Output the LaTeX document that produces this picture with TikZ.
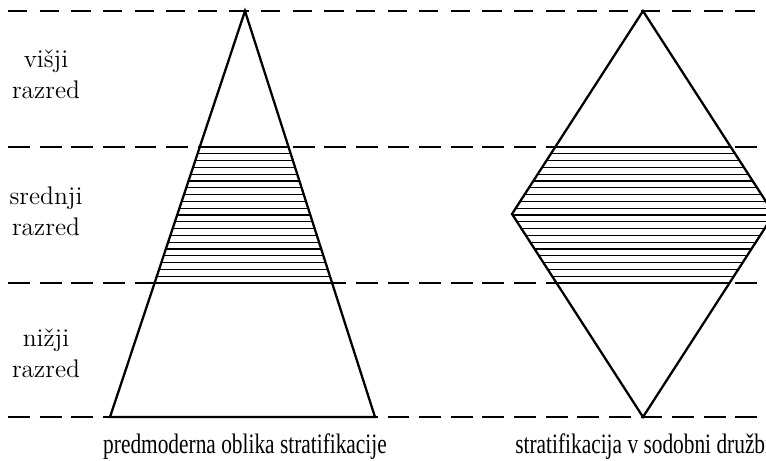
\documentclass[tikz,border=0pt]{standalone}
\usepackage{fontspec}
\usepackage{tikz}
\usetikzlibrary{calc}
\newfontfamily\captionfont[FakeStretch=0.76]{Liberation Serif}

\begin{document}
\begin{tikzpicture}[x=0.02cm, y=-0.02cm,
    stratline/.style={line width=1.3pt, line join=miter},
    level/.style={line width=1.1pt, dash pattern=on 12.5pt off 5.5pt},
    levelthin/.style={line width=0.6pt, dash pattern=on 11pt off 7pt},
    hatch/.style={line width=0.75pt},
    classlabel/.style={align=center, anchor=base, inner sep=0pt,
                       font=\fontsize{14.5}{17.5}\selectfont},
    caption/.style={anchor=base, inner sep=0pt,
                    font=\captionfont\fontsize{16}{19}\selectfont}
]
\useasboundingbox (0,0) rectangle (766,460);
\clip (0,0) rectangle (766,460);

% corner points of the two shapes
\coordinate (pyrtop) at (245,11);
\coordinate (pyrleft) at (110,417);
\coordinate (pyrright) at (375,417);
\coordinate (diatop) at (643,11);
\coordinate (diaright) at (774,214);
\coordinate (diabottom) at (643,417);
\coordinate (dialeft) at (512,214);

% class boundaries
\draw[levelthin] (8,11) -- (766,11);
\foreach \y in {147,283,417}
    \draw[level] (8,\y) -- (766,\y);

% premodern pyramid
\begin{scope}
    \clip (pyrleft) -- (pyrtop) -- (pyrright) -- cycle;
    \foreach \i in {1,...,19}
        \draw[hatch] (100,{147+\i*6.8}) -- (400,{147+\i*6.8});
    \draw[stratline] (100,147) -- (400,147);
    \draw[stratline] (100,283) -- (400,283);
\end{scope}
\draw[stratline] (pyrleft) -- (pyrtop) -- (pyrright) -- cycle;

% modern diamond
\begin{scope}
    \clip (diatop) -- (diaright) -- (diabottom) -- (dialeft) -- cycle;
    \foreach \i in {1,...,19}
        \draw[hatch] (500,{147+\i*6.8}) -- (780,{147+\i*6.8});
    \draw[stratline] (500,147) -- (780,147);
    \draw[stratline] (500,283) -- (780,283);
\end{scope}
\draw[stratline] (diatop) -- (diaright) -- (diabottom) -- (dialeft) -- cycle;

% labels (base = last line)
\node[classlabel] (upper) at (46,98) {višji\\razred};
\node[classlabel] (middle) at (46,235) {srednji\\razred};
\node[classlabel] (lower) at (46,377) {nižji\\razred};

\node[caption] (premodern) at (245,453) {predmoderna oblika stratifikacije};
\node[caption, anchor=base west] (modern) at (515,453) {stratifikacija v sodobni družbi};
\end{tikzpicture}
\end{document}
